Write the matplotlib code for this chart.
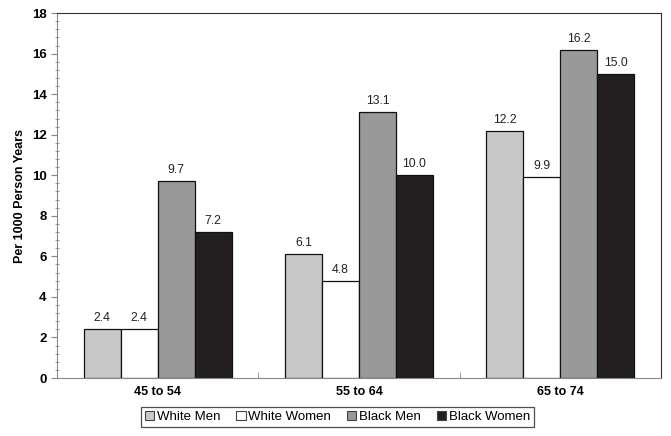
import matplotlib
matplotlib.use("Agg")
import matplotlib.pyplot as plt
import numpy as np
from matplotlib.ticker import MultipleLocator

plt.rcParams['font.family'] = ['Liberation Sans', 'DejaVu Sans']

age_groups = ["45 to 54", "55 to 64", "65 to 74"]
series_names = ["White Men", "White Women", "Black Men", "Black Women"]
white_men = [2.4, 6.1, 12.2]
white_women = [2.4, 4.8, 9.9]
black_men = [9.7, 13.1, 16.2]
black_women = [7.2, 10.0, 15.0]
colors = ["#c8c8c8", "#ffffff", "#999999", "#231f20"]

values = [white_men, white_women, black_men, black_women]

fig = plt.figure(figsize=(6.71, 4.36), dpi=100)
ax = fig.add_axes([0.085, 0.133, 0.900, 0.837])

x = np.arange(len(age_groups))
w = 0.184
for i, (name, vals, c) in enumerate(zip(series_names, values, colors)):
    pos = x + (i - 1.5) * w
    bars = ax.bar(pos, vals, width=w, color=c, edgecolor="#111111",
                  linewidth=0.9, label=name)
    for b, v in zip(bars, vals):
        ax.text(b.get_x() + b.get_width() / 2, v + 0.25, f"{v:.1f}",
                ha="center", va="bottom", fontsize=8.8, color="#222222")

ax.set_xlim(-0.5, 2.5)
ax.set_ylim(0, 18)
ax.yaxis.set_major_locator(MultipleLocator(2))
ax.yaxis.set_minor_locator(MultipleLocator(0.4))
ax.set_xticks(x)
ax.set_xticklabels(age_groups, fontweight="bold", fontsize=9)
ax.set_xticks([0.5, 1.5], minor=True)
ax.tick_params(axis="x", which="major", length=0, pad=6)
ax.tick_params(axis="x", which="minor", length=4, direction="in", color="#888888")
ax.tick_params(axis="y", which="major", length=4, color="#888888", labelsize=9.5)
ax.tick_params(axis="y", which="minor", length=3, direction="inout", color="#888888")
for lbl in ax.get_yticklabels():
    lbl.set_fontweight("bold")
ax.set_ylabel("Per 1000 Person Years", fontweight="bold", fontsize=9, labelpad=4)

ax.spines["left"].set_color("#888888")
ax.spines["bottom"].set_color("#888888")
ax.spines["top"].set_color("#333333")
ax.spines["right"].set_color("#333333")

handles = [plt.Rectangle((0, 0), 1, 1, facecolor=c, edgecolor="#444444", linewidth=0.8)
           for c in colors]
leg = fig.legend(handles, series_names, loc="center", bbox_to_anchor=(0.503, 0.044),
                 ncol=4, fontsize=9.5, frameon=True, fancybox=False,
                 handlelength=0.7, handleheight=0.7, handletextpad=0.2,
                 columnspacing=1.2, borderpad=0.3)
leg.get_frame().set_edgecolor("#222222")
leg.get_frame().set_linewidth(0.9)

fig.savefig("out.png", dpi=100)
